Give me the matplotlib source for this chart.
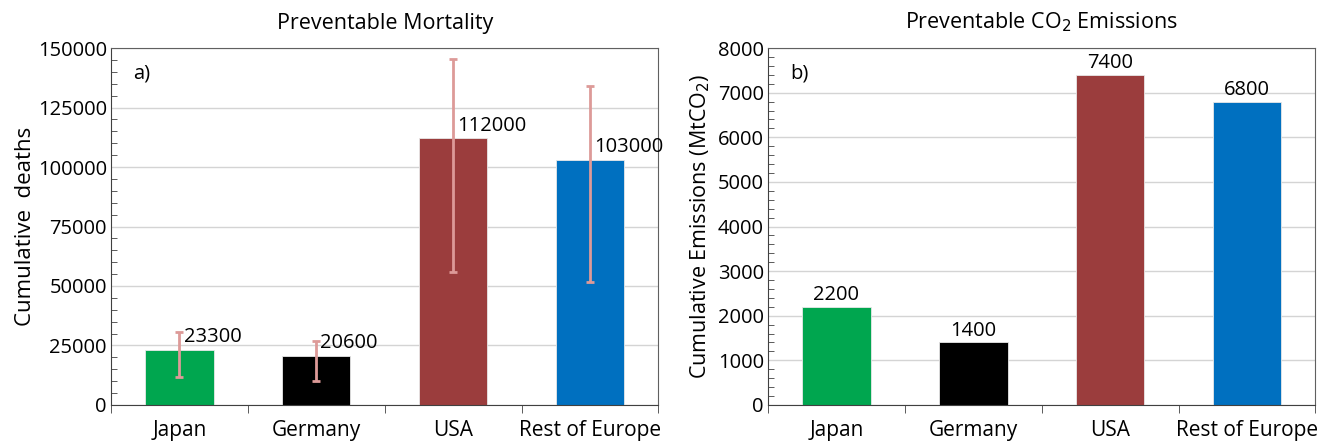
import matplotlib
matplotlib.use("Agg")
import matplotlib.pyplot as plt
from matplotlib.ticker import MultipleLocator, FixedLocator
import numpy as np

plt.rcParams['font.family'] = ['Open Sans', 'DejaVu Sans']

categories = ["Japan", "Germany", "USA", "Rest of Europe"]
colors = ["#00A64F", "#000000", "#9B3D3D", "#0070C0"]

mortality = [23300, 20600, 112000, 103000]
mortality_low = [11600, 10200, 56000, 51600]
mortality_high = [30500, 26800, 145500, 134000]

emissions = [2200, 1400, 7400, 6800]

fig = plt.figure(figsize=(13.22, 4.45), dpi=100)
ax1 = fig.add_axes([0.084, 0.090, 0.414, 0.802])
ax2 = fig.add_axes([0.581, 0.090, 0.414, 0.802])

x = np.arange(len(categories))
fs = 14.5

def style(ax):
    ax.set_xlim(-0.5, len(categories) - 0.5)
    ax.xaxis.set_major_locator(FixedLocator(x))
    ax.set_xticklabels(categories, fontsize=15)
    ax.xaxis.set_minor_locator(FixedLocator(np.arange(-0.5, len(categories), 1.0)))
    ax.tick_params(axis='x', which='major', length=0, pad=11)
    ax.tick_params(axis='x', which='minor', length=6, direction='out', color='#404040')
    ax.tick_params(axis='y', which='major', length=0, labelsize=fs, pad=3)
    ax.tick_params(axis='y', which='minor', length=4, direction='in', color='#404040')
    ax.grid(axis='y', which='major', color='#d4d4d4', linewidth=1.0)
    ax.set_axisbelow(True)
    for s in ['left', 'bottom']:
        ax.spines[s].set_color('#404040')
    for s in ['top', 'right']:
        ax.spines[s].set_color('#606060')

# Panel a
yerr = [np.array(mortality) - np.array(mortality_low),
        np.array(mortality_high) - np.array(mortality)]
ax1.bar(x, mortality, width=0.5, color=colors, edgecolor='#e8e8e8', linewidth=0.6, zorder=2)
ax1.errorbar(x, mortality, yerr=yerr, fmt='none', ecolor='#DD9A98', elinewidth=2,
             capsize=3, capthick=2, zorder=3)
for xi, v in zip(x, mortality):
    ax1.text(xi + 0.03, v + 1200, f"{v}", ha='left', va='bottom', fontsize=fs)
ax1.set_ylim(0, 150000)
ax1.yaxis.set_major_locator(MultipleLocator(25000))
ax1.yaxis.set_minor_locator(MultipleLocator(5000))
style(ax1)
ax1.set_ylabel("Cumulative  deaths", fontsize=16, labelpad=1)
ax1.set_title("Preventable Mortality", fontsize=15.5, pad=14)
ax1.text(0.04, 0.93, "a)", transform=ax1.transAxes, fontsize=fs, va='center')

# Panel b
ax2.bar(x, emissions, width=0.5, color=colors, edgecolor='#e8e8e8', linewidth=0.6, zorder=2)
for xi, v in zip(x, emissions):
    ax2.text(xi, v + 40, f"{v}", ha='center', va='bottom', fontsize=fs)
ax2.set_ylim(0, 8000)
ax2.yaxis.set_major_locator(MultipleLocator(1000))
ax2.yaxis.set_minor_locator(MultipleLocator(200))
style(ax2)
ax2.set_ylabel("Cumulative Emissions (MtCO$_2$)", fontsize=15.5, labelpad=4)
ax2.set_title("Preventable CO$_2$ Emissions", fontsize=15.5, pad=14)
ax2.text(0.04, 0.93, "b)", transform=ax2.transAxes, fontsize=fs, va='center')

fig.savefig("out.png", dpi=100)
